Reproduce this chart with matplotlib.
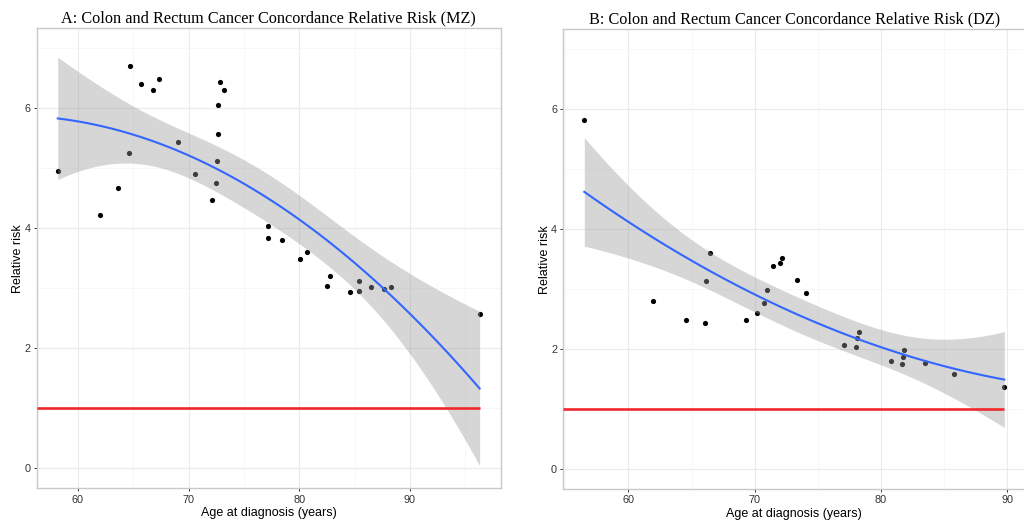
import numpy as np
import matplotlib
matplotlib.use("Agg")
import matplotlib.pyplot as plt

# ---- Data ----
mz_age = [58.19, 61.96, 63.61, 64.67, 64.61, 65.75, 66.75, 67.35, 69.07, 70.54,
          72.08, 72.47, 72.59, 72.65, 72.68, 72.80, 73.19, 77.20, 77.14, 78.40,
          80.05, 80.69, 82.76, 82.53, 84.57, 85.38, 85.36, 86.47, 87.64, 88.25,
          96.29]
mz_rr = [4.96, 4.22, 4.67, 6.70, 5.25, 6.41, 6.30, 6.49, 5.44, 4.91,
         4.47, 4.75, 5.12, 5.57, 6.06, 6.44, 6.30, 4.03, 3.84, 3.81,
         3.49, 3.61, 3.21, 3.04, 2.93, 3.12, 2.95, 3.02, 2.99, 3.02,
         2.57]

dz_age = [56.50, 61.95, 64.59, 66.06, 66.14, 66.46, 69.30, 70.17, 70.70, 70.94,
          71.46, 71.97, 72.20, 73.36, 74.05, 77.10, 78.02, 78.08, 78.24, 80.77,
          81.66, 81.74, 81.80, 83.53, 85.83, 89.78]
dz_rr = [5.82, 2.80, 2.49, 2.44, 3.13, 3.60, 2.49, 2.60, 2.77, 2.98,
         3.38, 3.43, 3.51, 3.15, 2.94, 2.07, 2.03, 2.18, 2.28, 1.80,
         1.75, 1.86, 1.98, 1.76, 1.59, 1.36]

titles = ["A: Colon and Rectum Cancer Concordance Relative Risk (MZ)",
          "B: Colon and Rectum Cancer Concordance Relative Risk (DZ)"]
x_label = "Age at diagnosis (years)"
y_label = "Relative risk"
reference_rr = 1.0
x_major = [60, 70, 80, 90]
x_minor = [55, 65, 75, 85, 95]
y_major = [0, 2, 4, 6]
y_minor = [1, 3, 5, 7]

T975 = {29: 2.045, 28: 2.048, 23: 2.069, 24: 2.064}


def quad_fit(x, y, n_out=100):
    x = np.asarray(x, float)
    y = np.asarray(y, float)
    X = np.column_stack([np.ones_like(x), x, x ** 2])
    beta, *_ = np.linalg.lstsq(X, y, rcond=None)
    resid = y - X @ beta
    df = len(x) - 3
    s2 = resid @ resid / df
    XtXi = np.linalg.inv(X.T @ X)
    xs = np.linspace(x.min(), x.max(), n_out)
    Xs = np.column_stack([np.ones_like(xs), xs, xs ** 2])
    fit = Xs @ beta
    se = np.sqrt(s2 * np.einsum("ij,jk,ik->i", Xs, XtXi, Xs))
    t = T975.get(df, 2.05)
    return xs, fit, fit - t * se, fit + t * se


fig = plt.figure(figsize=(10.24, 5.23), dpi=100)
positions = [[36.7 / 1024, 34.7 / 523, 464 / 1024, 460 / 523],
             [563.3 / 1024, 34.0 / 523, 462 / 1024, 459.7 / 523]]
datasets = [(mz_age, mz_rr), (dz_age, dz_rr)]

for pos, (ages, rr), title in zip(positions, datasets, titles):
    ax = fig.add_axes(pos)
    ax.set_facecolor("white")
    xs, fit, lo, hi = quad_fit(ages, rr)
    xmin, xmax = min(ages), max(ages)
    span = xmax - xmin
    x0, x1 = xmin - 0.05 * span, xmax + 0.05 * span
    y0, y1 = -0.335, 7.33

    ax.set_xticks(x_major)
    ax.set_xticks([v for v in x_minor if x0 <= v <= x1], minor=True)
    ax.set_yticks(y_major)
    ax.set_yticks(y_minor, minor=True)
    ax.set_xlim(x0, x1)
    ax.set_ylim(y0, y1)

    ax.scatter(ages, rr, s=14, color="black", zorder=3, linewidths=0)
    ax.fill_between(xs, lo, hi, color="#999999", alpha=0.4, linewidth=0, zorder=4)
    ax.plot(xs, fit, color="#3366FF", lw=1.5, zorder=5)
    ax.plot([x0, xmax], [reference_rr, reference_rr],
            color="#F0272B", lw=1.9, zorder=6, solid_capstyle="butt")

    ax.grid(True, which="major", color="#EBEBEB", lw=0.8, zorder=0)
    ax.grid(True, which="minor", color="#F4F4F4", lw=0.5, zorder=0)
    ax.set_axisbelow(True)
    ax.tick_params(which="major", length=2.5, width=0.7, color="#333333",
                   labelsize=7.8, labelcolor="#333333", pad=2)
    ax.tick_params(which="minor", length=0)
    for sp in ax.spines.values():
        sp.set_color("#C8C8C8")
        sp.set_linewidth(1.0)
    ax.set_xlabel(x_label, fontsize=9, family="Liberation Sans", labelpad=2)
    ax.set_ylabel(y_label, fontsize=9, family="Liberation Sans", labelpad=0)
    for lab in ax.get_xticklabels() + ax.get_yticklabels():
        lab.set_family("Liberation Sans")
    ax.set_title(title, fontsize=11.7, family="Liberation Serif", pad=4)

fig.savefig("out.png", dpi=100)
